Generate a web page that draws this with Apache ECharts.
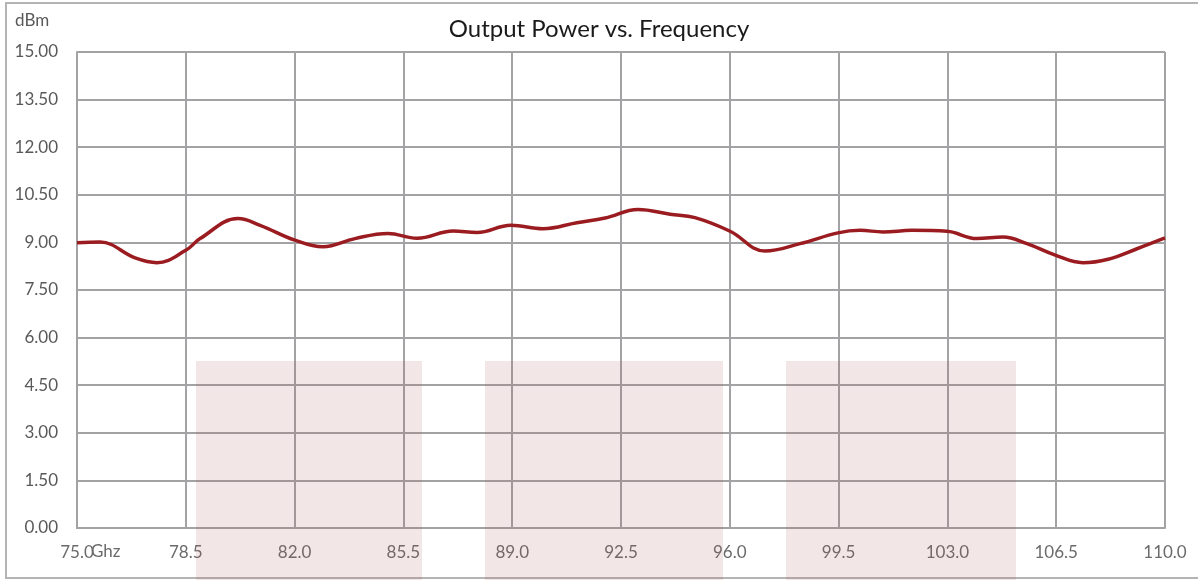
<!DOCTYPE html>
<html>
<head>
<meta charset="utf-8">
<script src="https://cdn.jsdelivr.net/npm/echarts@6/dist/echarts.min.js"></script>
<style>
  html, body { margin: 0; padding: 0; background: #fff; }
  #main { width: 1198px; height: 580px; }
</style>
</head>
<body>
<div id="main"></div>
<script>
// frequency (GHz) / output power (dBm)
const freq = [75.0, 75.74, 76.87, 77.57, 78.5, 78.96, 80.18, 80.89, 82.01, 82.91,
    83.94, 85.0, 85.94, 87.1, 87.87, 88.96, 89.99, 91.08, 91.99, 93.05,
    94.08, 94.88, 96.01, 97.13, 98.26, 99.48, 100.19, 100.93, 101.86, 102.99,
    103.95, 104.79, 105.56, 106.49, 107.36, 108.17, 109.1, 110.0];
const power = [8.99, 9.01, 8.51, 8.36, 8.75, 9.12, 9.75, 9.54, 9.07, 8.86,
    9.12, 9.28, 9.13, 9.36, 9.31, 9.54, 9.43, 9.62, 9.77, 10.04,
    9.89, 9.78, 9.35, 8.73, 8.96, 9.3, 9.38, 9.33, 9.38, 9.35,
    9.12, 9.17, 8.96, 8.59, 8.36, 8.47, 8.8, 9.14];

const xMin = 75, xMax = 110, xStep = 3.5;
const yMin = 0, yMax = 15, yStep = 1.5;

const chart = echarts.init(document.getElementById("main"));

const gridColor = '#a3a3a6';
const labelFont = 'Lato, "Open Sans", sans-serif';

const option = {
    backgroundColor: '#fff',
    animation: false,
    title: {
        text: 'Output Power vs. Frequency',
        left: 'center',
        top: 12,
        textStyle: {
            fontFamily: labelFont,
            fontSize: 24,
            fontWeight: 'normal',
            color: '#1a1a1a'
        }
    },
    grid: {
        left: 77,
        right: 33,
        top: 52,
        bottom: 52
    },
    xAxis: {
        type: 'value',
        min: xMin,
        max: xMax,
        interval: xStep,
        axisLine: { show: true, lineStyle: { color: gridColor, width: 2 } },
        axisTick: { show: false },
        splitLine: { show: true, lineStyle: { color: gridColor, width: 2 } },
        axisLabel: {
            margin: 16,
            color: '#6b6b6b',
            fontFamily: labelFont,
            fontSize: 17,
            formatter: v => v.toFixed(1)
        }
    },
    yAxis: {
        type: 'value',
        min: yMin,
        max: yMax,
        interval: yStep,
        axisLine: { show: true, lineStyle: { color: gridColor, width: 2 } },
        axisTick: { show: false },
        splitLine: { show: true, lineStyle: { color: gridColor, width: 2 } },
        axisLabel: {
            margin: 19,
            color: '#595959',
            fontFamily: labelFont,
            fontSize: 17,
            formatter: v => v.toFixed(2)
        }
    },
    graphic: [
        // outer frame
        {
            type: 'rect',
            shape: { x: 6, y: 3, width: 1200, height: 575 },
            style: { fill: null, stroke: '#b4b4b4', lineWidth: 2 },
            z: 0
        },
        {
            type: 'text',
            left: 15,
            top: 12,
            style: { text: 'dBm', fill: '#595959', font: '17px ' + labelFont }
        },
        {
            type: 'text',
            left: 91,
            top: 543,
            style: { text: 'Ghz', fill: '#6b6b6b', font: '17px ' + labelFont }
        },
        // pale pink watermark blocks
        {
            type: 'rect', z: 50,
            shape: { x: 196, y: 361, width: 226, height: 219 },
            style: { fill: 'rgba(168,88,88,0.15)' }
        },
        {
            type: 'rect', z: 50,
            shape: { x: 485, y: 361, width: 238, height: 219 },
            style: { fill: 'rgba(168,88,88,0.15)' }
        },
        {
            type: 'rect', z: 50,
            shape: { x: 786, y: 361, width: 230, height: 219 },
            style: { fill: 'rgba(168,88,88,0.15)' }
        }
    ],
    series: [{
        type: 'line',
        data: freq.map((f, i) => [f, power[i]]),
        smooth: 0.4,
        symbol: 'none',
        lineStyle: { color: '#9b1c20', width: 3.5 },
        z: 10
    }]
};

chart.setOption(option);
</script>
</body>
</html>
